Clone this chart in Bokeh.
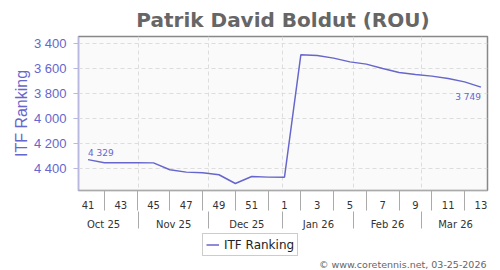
from bokeh.plotting import figure
from bokeh.layouts import column
from bokeh.models import (Range1d, FixedTicker, LinearAxis, Legend, LegendItem,
                          ColumnDataSource, Grid, Label)
from bokeh.embed import file_html
from bokeh.resources import INLINE
from bokeh.core.properties import value

# ---- data ----
week_labels = ["41", "42", "43", "44", "45", "46", "47", "48", "49", "50", "51", "52",
               "1", "2", "3", "4", "5", "6", "7", "8", "9", "10", "11", "12", "13"]
ranking = [4329, 4354, 4354, 4354, 4355, 4410, 4429, 4434, 4450, 4520, 4464, 4469, 4470,
           3490, 3496, 3517, 3547, 3565, 3600, 3632, 3648, 3661, 3680, 3707, 3749]
month_labels = ["Oct 25", "Nov 25", "Dec 25", "Jan 26", "Feb 26", "Mar 26"]
month_centers = [0.95, 5.23, 9.7, 14.07, 18.29, 22.45]
month_bounds = [3.09, 7.37, 11.9, 16.24, 20.34]
y_ticks = [3400, 3600, 3800, 4000, 4200, 4400]
series_name = "ITF Ranking"
credit_text = "\u00a9 www.coretennis.net, 03-25-2026"

idx = list(range(len(week_labels)))

PURPLE = "#6666cc"

def fmt(v):
    return f"{v:,}".replace(",", " ")

p = figure(width=500, height=232, output_backend="svg", toolbar_location=None,
           x_range=Range1d(-0.58, 24.4), y_range=Range1d(4576, 3344),
           x_axis_type=None, y_axis_type=None,
           min_border_left=78, min_border_right=13, min_border_top=36, min_border_bottom=42,
           background_fill_color="#fafafa", border_fill_color="white",
           outline_line_color="#888888", outline_line_width=1.5)

p.title.text = "Patrik David Boldut (ROU)"
p.title.text_font = "DejaVu Sans"
p.title.text_font_size = "20px"
p.title.text_font_style = "bold"
p.title.text_color = "#666666"
p.title.align = "center"
p.title.offset = -32

# grids
p.add_layout(Grid(dimension=0, ticker=FixedTicker(ticks=month_bounds),
                  grid_line_color="#dddddd", grid_line_dash="4 3"))
p.add_layout(Grid(dimension=1, ticker=FixedTicker(ticks=y_ticks),
                  grid_line_color="#dddddd", grid_line_dash="4 3"))

# y axis
yax = LinearAxis(ticker=FixedTicker(ticks=y_ticks),
                 major_label_overrides={t: fmt(t) for t in y_ticks},
                 axis_label=series_name,
                 axis_label_text_font="Liberation Sans",
                 axis_label_text_font_size="16px",
                 axis_label_text_font_style="normal",
                 axis_label_text_color=PURPLE,
                 axis_label_standoff=1,
                 major_label_text_font="Liberation Sans",
                 major_label_text_font_size="13px",
                 major_label_text_color=PURPLE,
                 major_label_standoff=7,
                 major_tick_out=5, major_tick_in=0,
                 major_tick_line_color="#b8b8e0",
                 minor_tick_line_color=None,
                 axis_line_color="#b8b8e0")
p.add_layout(yax, "left")

# x axis: weeks
even = idx[::2]
odd = idx[1::2]
xax1 = LinearAxis(ticker=FixedTicker(ticks=even, minor_ticks=odd),
                  major_label_overrides={i: week_labels[i] for i in even},
                  major_label_text_font="DejaVu Sans",
                  major_label_text_font_size="10px",
                  major_label_text_color="#333333",
                  major_label_standoff=-10,
                  major_tick_line_color=None, major_tick_out=0, major_tick_in=0,
                  minor_tick_out=20, minor_tick_in=0,
                  minor_tick_line_color="#aaaaaa",
                  axis_line_color="#aaaaaa")
p.add_layout(xax1, "below")

# x axis: months
xax2 = LinearAxis(ticker=FixedTicker(ticks=month_centers, minor_ticks=month_bounds),
                  major_label_overrides={c: m for c, m in zip(month_centers, month_labels)},
                  major_label_text_font="DejaVu Sans",
                  major_label_text_font_size="10px",
                  major_label_text_color="#333333",
                  major_label_standoff=-10,
                  major_tick_line_color=None, major_tick_out=0, major_tick_in=0,
                  minor_tick_out=17, minor_tick_in=0,
                  minor_tick_line_color="#aaaaaa",
                  axis_line_color=None)
p.add_layout(xax2, "below")

src = ColumnDataSource(dict(x=idx, y=ranking))
p.line("x", "y", source=src, line_color=PURPLE, line_width=1.5)

# end-point labels
first = ColumnDataSource(dict(x=[idx[0]], y=[ranking[0]], t=[fmt(ranking[0])]))
last = ColumnDataSource(dict(x=[idx[-1]], y=[ranking[-1]], t=[fmt(ranking[-1])]))
p.text("x", "y", text="t", source=first, text_font=value("DejaVu Sans"),
       text_font_size="9px", text_color=PURPLE, text_align="left",
       text_baseline="bottom", y_offset=-2)
p.text("x", "y", text="t", source=last, text_font=value("DejaVu Sans"),
       text_font_size="9px", text_color=PURPLE, text_align="right",
       text_baseline="top", y_offset=5)

# ---- footer: legend + credit (frame aligned with the main plot's frame) ----
p2 = figure(width=500, height=38, output_backend="svg", toolbar_location=None,
            title=None, x_range=Range1d(0, 1), y_range=Range1d(0, 1),
            x_axis_type=None, y_axis_type=None,
            min_border_left=78, min_border_right=13, min_border_top=0, min_border_bottom=0,
            outline_line_color=None, background_fill_color="white",
            border_fill_color="white")
# same series, out of this panel's view, only to feed the legend
r2 = p2.line("x", "y", source=src, line_color=PURPLE, line_width=1.5)

legend = Legend(items=[LegendItem(label=series_name, renderers=[r2])],
                location=(124, 14), orientation="horizontal",
                label_text_font="DejaVu Sans", label_text_font_size="12px",
                label_text_color="#222222",
                border_line_color="#999999", background_fill_color="white",
                glyph_width=13, glyph_height=15, label_height=15,
                label_standoff=5, padding=3, spacing=0, margin=0)
p2.add_layout(legend, "center")

p2.add_layout(Label(x=408, y=6, x_units="screen", y_units="screen", text=credit_text,
                    text_align="right", text_baseline="middle",
                    text_font="DejaVu Sans", text_font_size="9.5px",
                    text_color="#666666"))

layout = column(p, p2, spacing=0)
open("out.html", "w").write(file_html(layout, INLINE))
